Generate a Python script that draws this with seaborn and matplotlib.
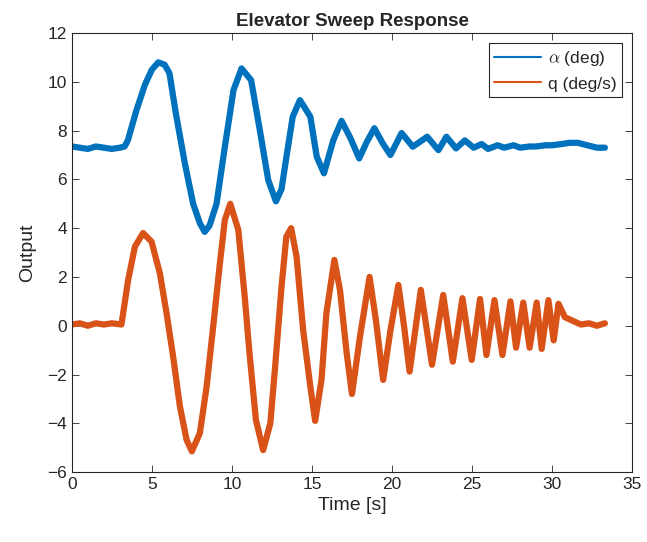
import matplotlib
matplotlib.use("Agg")
import matplotlib.pyplot as plt
import seaborn as sns
import pandas as pd

# values (time in s, band centre of the noisy traces)
alpha_t = [0.0, 0.5, 1.0, 1.5, 2.0, 2.5, 3.0, 3.3, 3.5, 4.04, 4.56, 5.0, 5.4, 5.8, 6.1, 6.5,
           7.06, 7.58, 8.0, 8.3, 8.6, 9.04, 9.56, 10.1, 10.6, 11.2, 11.75, 12.27, 12.75,
           13.1, 13.4, 13.8, 14.25, 14.9, 15.3, 15.75, 16.33, 16.85, 17.4, 17.95, 18.4,
           18.9, 19.4, 19.9, 20.6, 21.3, 22.2, 22.9, 23.4, 24.0, 24.55, 25.1, 25.6, 26.0,
           26.6, 27.0, 27.6, 28.0, 28.6, 29.0, 29.6, 30.0, 30.6, 31.1, 31.6, 32.2, 32.8,
           33.3]
alpha_deg = [7.35, 7.3, 7.25, 7.35, 7.3, 7.25, 7.3, 7.35, 7.6, 8.84, 9.87, 10.5, 10.8, 10.7,
             10.35, 8.7, 6.66, 5.0, 4.2, 3.85, 4.1, 5.0, 7.34, 9.66, 10.55, 10.07, 8.0, 5.97,
             5.1, 5.6, 6.9, 8.57, 9.25, 8.57, 6.93, 6.25, 7.6, 8.4, 7.7, 6.86, 7.5, 8.1,
             7.5, 7.0, 7.9, 7.34, 7.75, 7.2, 7.75, 7.27, 7.6, 7.3, 7.45, 7.25, 7.4, 7.3,
             7.4, 7.3, 7.35, 7.35, 7.4, 7.4, 7.45, 7.5, 7.5, 7.4, 7.3, 7.3]

q_t = [0.0, 0.5, 1.0, 1.5, 2.0, 2.5, 3.1, 3.52, 3.94, 4.45, 4.98, 5.5, 5.92, 6.33, 6.75, 7.17,
       7.5, 8.0, 8.42, 8.83, 9.25, 9.56, 9.9, 10.4, 10.8, 11.1, 11.5, 11.95, 12.4, 12.7, 13.1,
       13.4, 13.7, 14.04, 14.45, 14.9, 15.2, 15.6, 15.9, 16.4, 16.75, 17.17, 17.5, 18.0,
       18.6, 19.0, 19.45, 19.9, 20.4, 20.75, 21.1, 21.8, 22.5, 23.2, 23.8, 24.4, 24.98,
       25.5, 25.9, 26.4, 26.9, 27.4, 27.75, 28.2, 28.6, 29.04, 29.35, 29.77, 30.1, 30.4,
       30.8, 31.3, 31.8, 32.3, 32.8, 33.3]
q_degs = [0.05, 0.1, 0.0, 0.1, 0.05, 0.1, 0.05, 1.88, 3.24, 3.8, 3.45, 2.15, 0.51, -1.27,
          -3.3, -4.68, -5.15, -4.4, -2.5, -0.04, 2.56, 4.34, 5.0, 3.93, 1.19, -1.13, -3.86,
          -5.1, -4.0, -1.68, 1.6, 3.65, 4.0, 2.83, -0.17, -2.5, -3.9, -2.2, 0.51, 2.7,
          1.47, -1.13, -2.8, -0.45, 2.0, 0.2, -2.22, -0.2, 1.67, 0.0, -1.88, 1.47, -1.6,
          1.26, -1.47, 1.13, -1.4, 1.1, -1.2, 1.05, -1.2, 1.0, -0.9, 0.95, -0.9, 0.95, -0.95,
          1.05, -0.6, 0.9, 0.35, 0.2, 0.05, 0.1, 0.0, 0.1]

x_ticks = [0, 5, 10, 15, 20, 25, 30, 35]
y_ticks = [-6, -4, -2, 0, 2, 4, 6, 8, 10, 12]

alpha_df = pd.DataFrame({"t": alpha_t, "v": alpha_deg})
q_df = pd.DataFrame({"t": q_t, "v": q_degs})

sns.set_theme(style="ticks")
plt.rcParams["font.family"] = ["Liberation Sans", "DejaVu Sans"]
plt.rcParams["mathtext.fontset"] = "cm"

fig = plt.figure(figsize=(6.47, 5.42), dpi=100)
ax = fig.add_axes([0.111, 0.129, 0.866, 0.81])

blue = "#0072BD"
orange = "#D95319"
line_kw = dict(estimator=None, sort=False, linewidth=4.5,
               solid_joinstyle="round", solid_capstyle="round")
sns.lineplot(data=alpha_df, x="t", y="v", ax=ax, color=blue,
             label=r"$\alpha$ (deg)", **line_kw)
sns.lineplot(data=q_df, x="t", y="v", ax=ax, color=orange,
             label="q (deg/s)", **line_kw)

ax.set_xlim(0, 35)
ax.set_ylim(-6, 12)
ax.set_xticks(x_ticks)
ax.set_yticks(y_ticks)
ax.tick_params(direction="in", top=True, right=True, length=5, width=0.6,
               labelsize=12.5, colors="#262626")
for s in ax.spines.values():
    s.set_color("#262626")
    s.set_linewidth(0.8)

ax.set_xlabel("Time [s]", fontsize=14, color="#262626")
ax.set_ylabel("Output", fontsize=14, color="#262626", labelpad=8)
ax.set_title("Elevator Sweep Response", fontsize=13.5, fontweight="bold", pad=5)

leg = ax.legend(loc="upper right", fontsize=12.5, frameon=True, fancybox=False,
                edgecolor="#262626", framealpha=1, borderpad=0.3, handlelength=2.7,
                borderaxespad=0.6, handletextpad=0.4)
leg.get_frame().set_linewidth(0.8)
for line in leg.get_lines():
    line.set_linewidth(1.5)

fig.savefig("out.png", dpi=100)
